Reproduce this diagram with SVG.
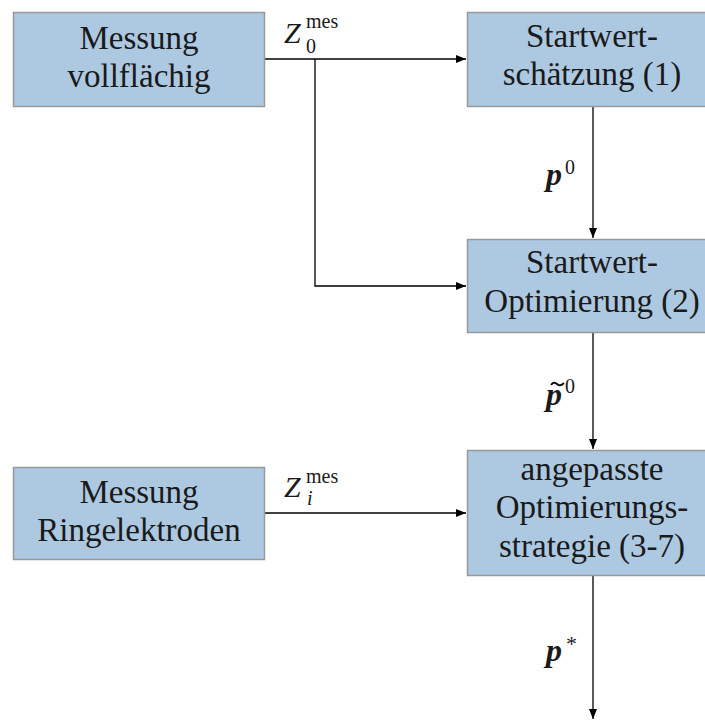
<svg xmlns="http://www.w3.org/2000/svg" width="705" height="725" viewBox="0 0 705 725">
<defs>
<style>
.box{fill:#adc9e1;stroke:#999999;stroke-width:1.5}
text{fill:#1a1a1a}
.t{font-size:33px;text-anchor:middle}
.ln{fill:none;stroke:#000;stroke-width:1.3}
</style>
<marker id="ah" viewBox="0 0 10 8" refX="10" refY="4" markerWidth="10" markerHeight="8" markerUnits="userSpaceOnUse" orient="auto">
<path d="M0,0 L10,4 L0,8 Z" fill="#000"/>
</marker>
</defs>
<rect width="705" height="725" fill="#fff"/>
<g id="connectors" font-family="Liberation Serif, serif">
<path class="ln" d="M264,59 H466" marker-end="url(#ah)"/>
<path class="ln" d="M315,59 V286 H466" marker-end="url(#ah)"/>
<path class="ln" d="M593,107 V238" marker-end="url(#ah)"/>
<path class="ln" d="M593,333 V449" marker-end="url(#ah)"/>
<path class="ln" d="M264,513 H466" marker-end="url(#ah)"/>
<path class="ln" d="M593,576 V719" marker-end="url(#ah)"/>
<text x="284" y="43" font-size="30" font-style="italic">Z</text>
<text x="306" y="28" font-size="20">mes</text>
<text x="306" y="53" font-size="20">0</text>
<text x="284" y="497" font-size="30" font-style="italic">Z</text>
<text x="306" y="483" font-size="20">mes</text>
<text x="307" y="505" font-size="20" font-style="italic">i</text>
<text x="546" y="185" font-size="32" font-style="italic" font-weight="bold">p</text>
<text x="565" y="174" font-size="20">0</text>
<text x="546" y="405" font-size="32" font-style="italic" font-weight="bold">p</text>
<path d="M551,385 q3,-4 6,-1 t7,-1" fill="none" stroke="#111" stroke-width="2"/>
<text x="565" y="393" font-size="20">0</text>
<text x="546" y="661" font-size="32" font-style="italic" font-weight="bold">p</text>
<text x="566" y="651" font-size="22">*</text>
</g>
<g font-family="Liberation Serif, serif">
<g id="node-messung-vollflaechig">
<rect class="box" x="13.5" y="12.5" width="251" height="94"/>
<text class="t" x="139" y="49">Messung</text>
<text class="t" x="139" y="87">vollflächig</text>
</g>
<g id="node-startwertschaetzung">
<rect class="box" x="467.5" y="12.5" width="251" height="94"/>
<text class="t" x="592" y="47">Startwert-</text>
<text class="t" x="592" y="85">schätzung (1)</text>
</g>
<g id="node-startwertoptimierung">
<rect class="box" x="467.5" y="239.5" width="251" height="93"/>
<text class="t" x="592" y="273">Startwert-</text>
<text class="t" x="592" y="312">Optimierung (2)</text>
</g>
<g id="node-messung-ringelektroden">
<rect class="box" x="13.5" y="467.5" width="251" height="92"/>
<text class="t" x="139" y="503">Messung</text>
<text class="t" x="139" y="541">Ringelektroden</text>
</g>
<g id="node-optimierungsstrategie">
<rect class="box" x="467.5" y="450.5" width="251" height="125"/>
<text class="t" x="592" y="480">angepasste</text>
<text class="t" x="592" y="518">Optimierungs-</text>
<text class="t" x="592" y="557">strategie (3-7)</text>
</g>
</g>
</svg>
